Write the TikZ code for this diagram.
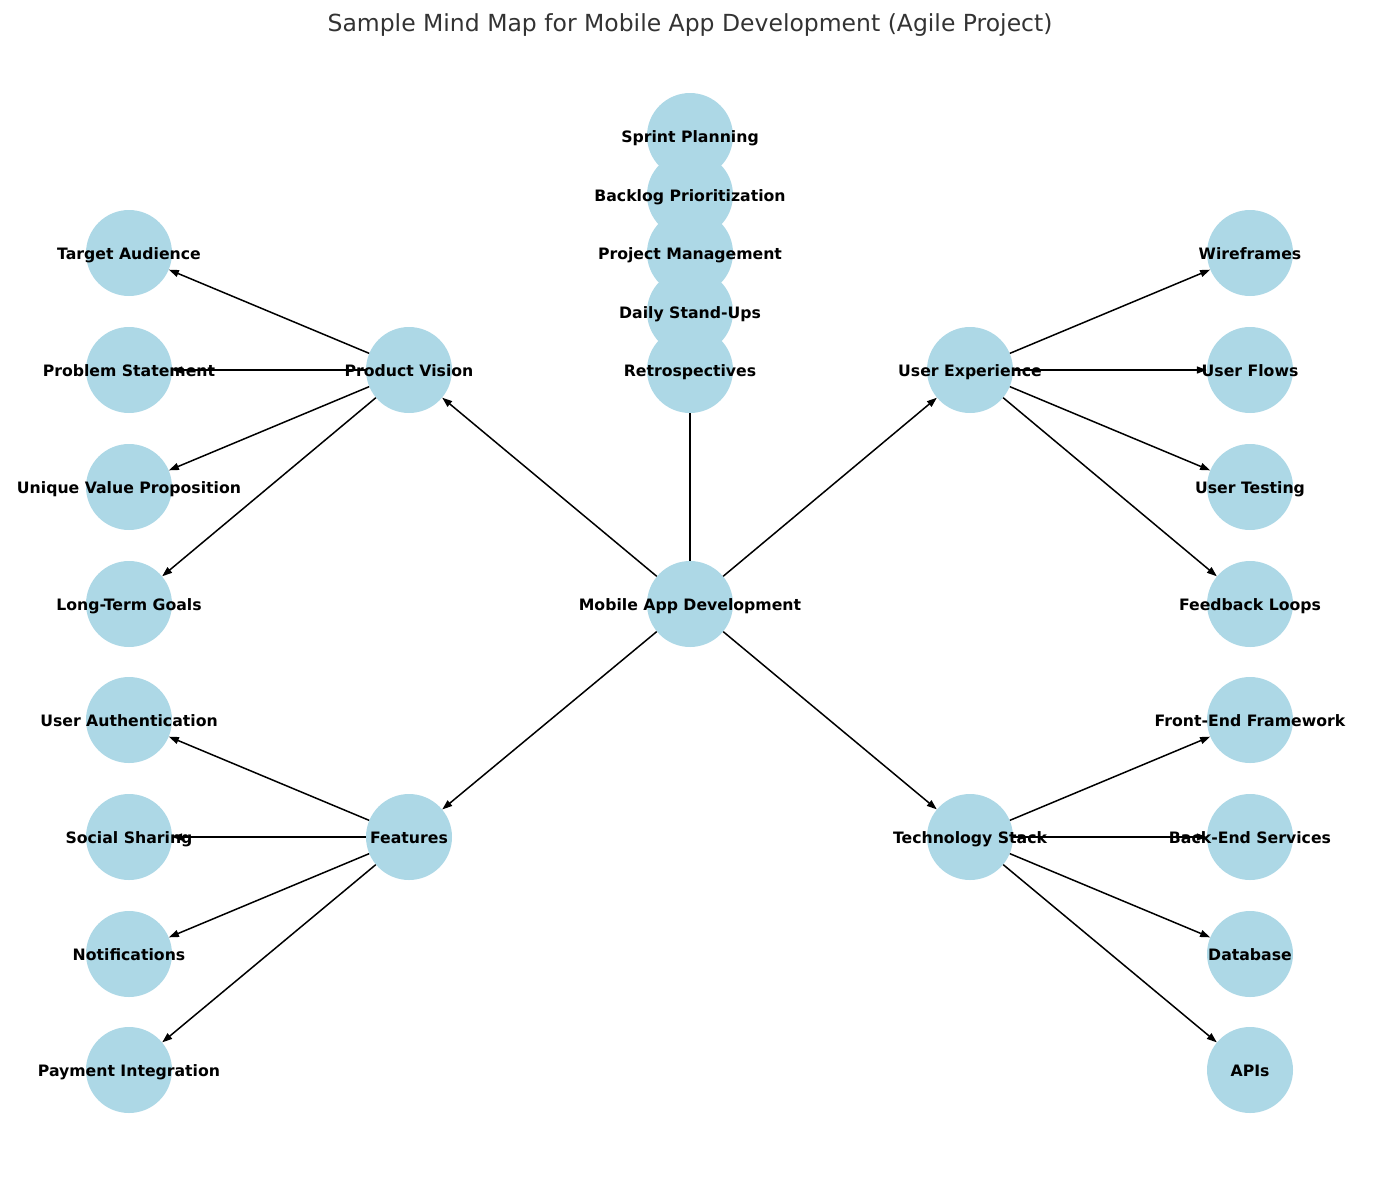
\documentclass[tikz,border=0pt]{standalone}
\usepackage{fontspec}
\setmainfont{DejaVu Sans}
\usetikzlibrary{arrows.meta}
\definecolor{bub}{HTML}{ADD8E6}
\definecolor{ttl}{HTML}{333333}
\tikzset{
  bubble/.style={circle,fill=bub,draw=none,minimum size=86pt,inner sep=0pt},
  lbl/.style={anchor=base,inner sep=0pt,font=\fontsize{15.7}{18}\selectfont\bfseries},
  edge/.style={line width=1.5pt,black},
  arr/.style={edge,-{Triangle[length=10pt,width=7pt]}},
}
\begin{document}
\begin{tikzpicture}[x=1pt,y=-1pt]
\useasboundingbox (0,0) rectangle (1380,1181);
\node[anchor=base,inner sep=0pt,text=ttl,font=\fontsize{23.5}{27}\selectfont] (title) at (690,31) {Sample Mind Map for Mobile App Development (Agile Project)};
\foreach \n/\x/\y in {
  c/690/604, pv/409/370, ux/970/370, ft/409/837, ts/970/837,
  sp/690/136, bp/690/195, pm/690/253, ds/690/312, re/690/370,
  ta/129/253, ps/129/370, uv/129/487, lg/129/604,
  ua/129/720, ss/129/837, no/129/954, pi/129/1070,
  wf/1250/253, uf/1250/370, ut/1250/487, fl/1250/604,
  fe/1250/720, be/1250/837, db/1250/954, ap/1250/1070}
{
  \node[bubble] (\n) at (\x,\y) {};
}
\foreach \n/\t in {
  c/Mobile App Development, pv/Product Vision, ux/User Experience, ft/Features,
  ts/Technology Stack, sp/Sprint Planning, bp/Backlog Prioritization,
  pm/Project Management, ds/Daily Stand-Ups, re/Retrospectives,
  ta/Target Audience, ps/Problem Statement, uv/Unique Value Proposition,
  lg/Long-Term Goals, ua/User Authentication, ss/Social Sharing,
  no/Notifications, pi/Payment Integration, wf/Wireframes, uf/User Flows,
  ut/User Testing, fl/Feedback Loops, fe/Front-End Framework,
  be/Back-End Services, db/Database, ap/APIs}
{
  \node[lbl] (\n-t) at ([yshift=-6pt]\n.center) {\t};
}
\draw[edge] (c) -- (re);
\foreach \a/\b in {c/pv, c/ux, c/ft, c/ts,
  pv/ta, pv/ps, pv/uv, pv/lg,
  ft/ua, ft/ss, ft/no, ft/pi,
  ux/wf, ux/uf, ux/ut, ux/fl,
  ts/fe, ts/be, ts/db, ts/ap}
{
  \draw[arr] (\a) -- (\b);
}
\end{tikzpicture}
\end{document}
